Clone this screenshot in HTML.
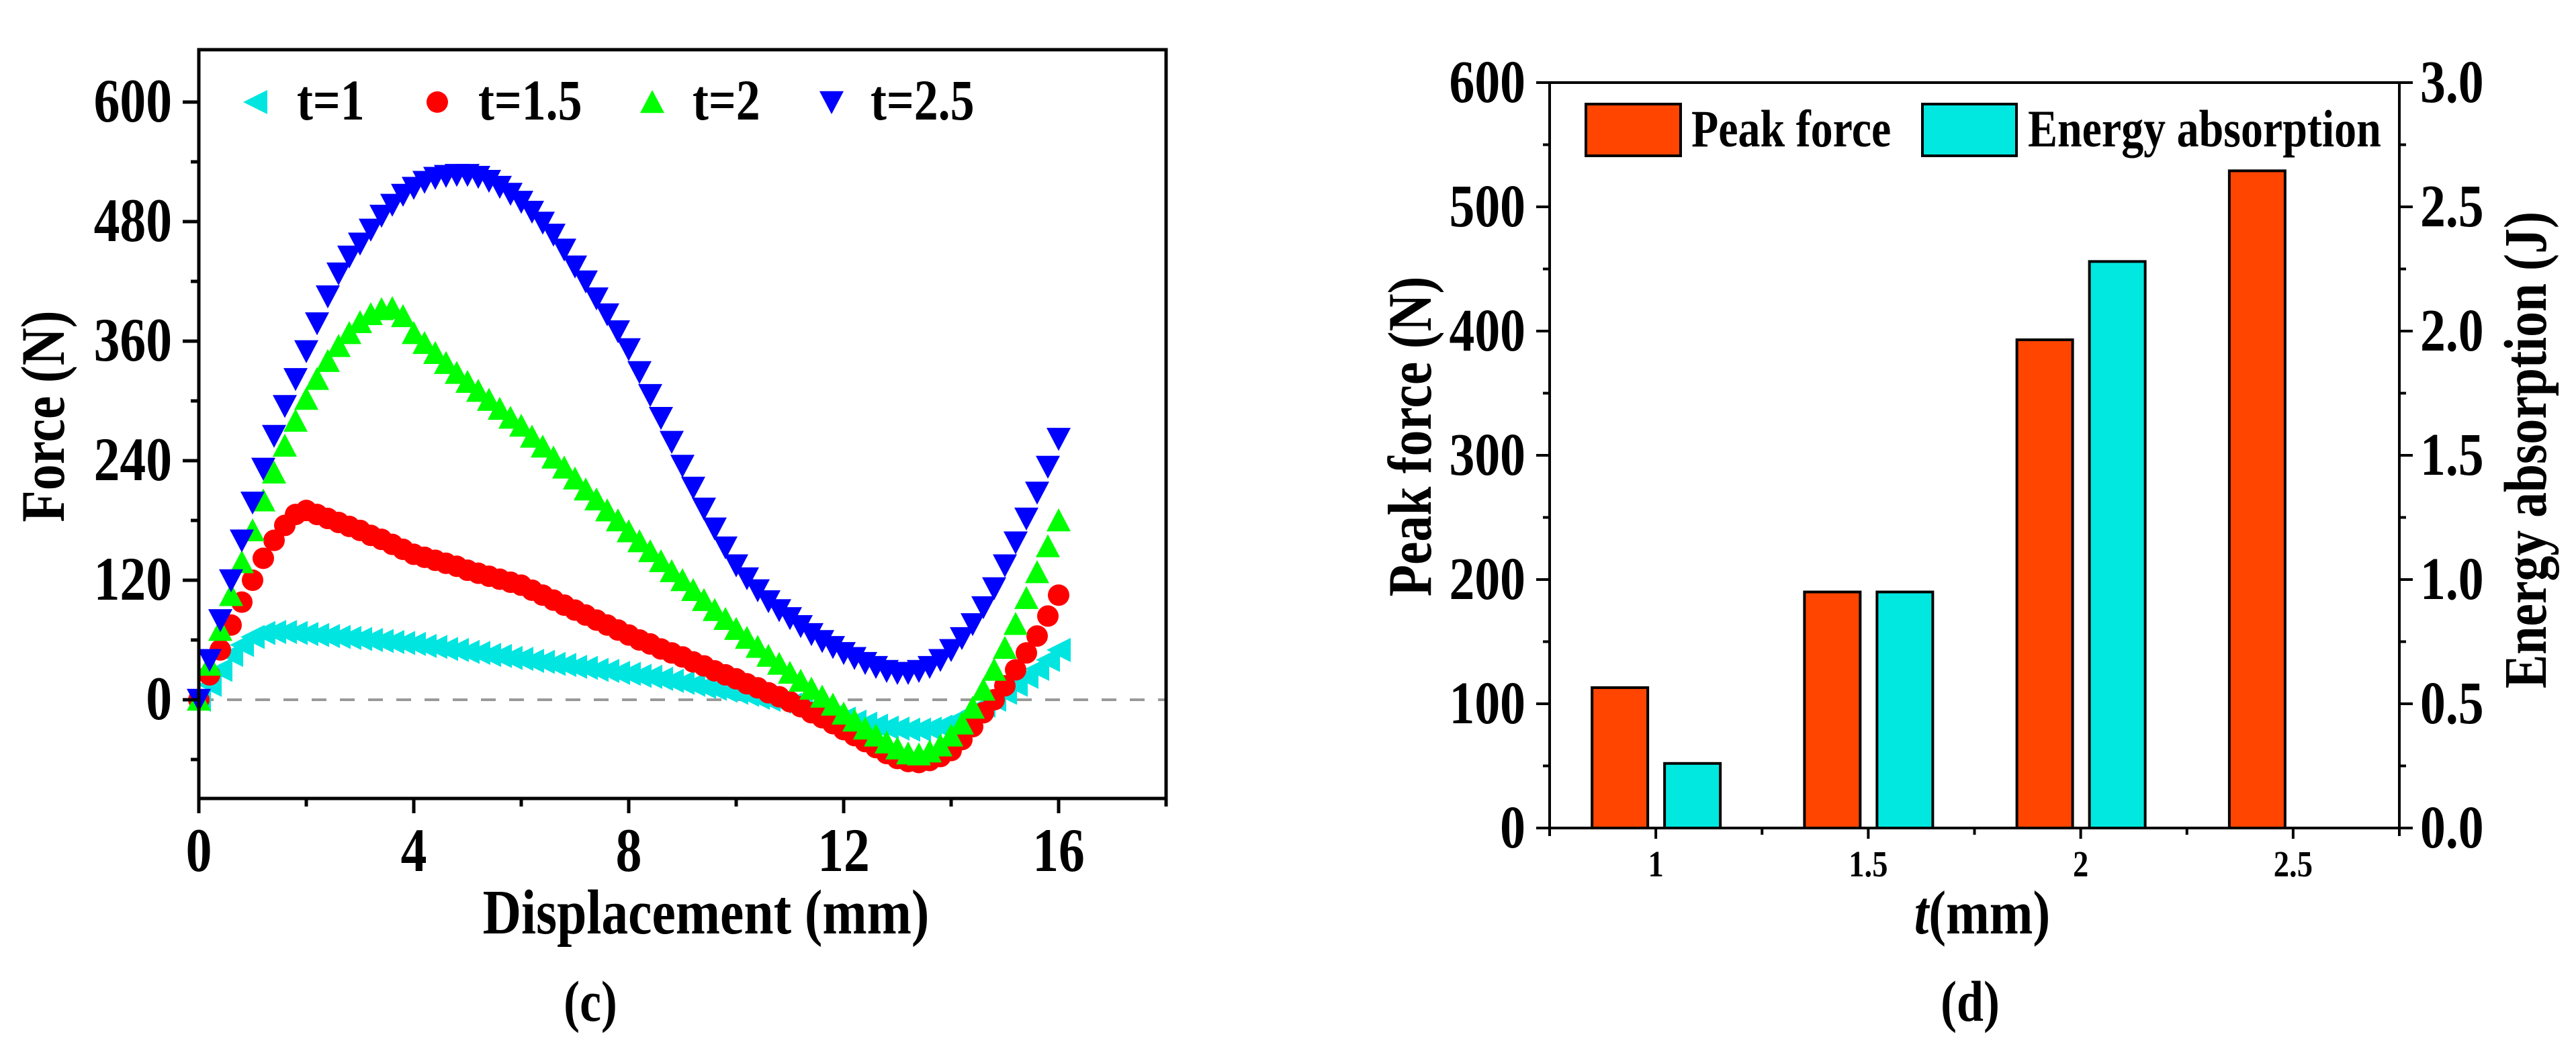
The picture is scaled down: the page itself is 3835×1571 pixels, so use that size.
<!DOCTYPE html>
<html><head><meta charset="utf-8"><style>
html,body{margin:0;padding:0;background:#fff}
svg{display:block}
text{font-family:"Liberation Serif",serif;font-weight:bold;fill:#000}
</style></head><body>
<svg id="fig" width="3835" height="1571" viewBox="0 0 3835 1571" xmlns="http://www.w3.org/2000/svg">
<g id="left"></g>
<g id="right"></g>
</svg>
<script>
// ---------- Chart (c) data ----------
const dispStep = 0.2;
const yTicksC = [0,120,240,360,480,600];
const xTicksC = [0,4,8,12,16];
const seriesNames = ["t=1","t=1.5","t=2","t=2.5"];
const forceT1 = [0,15,30,45,55,63,67,68,68,67,66,65,64,63,62,61,60,59,58,57,56,54,53,51,50,48,47,45,44,42,41,39,38,36,35,33,32,30,29,27,26,24,23,21,19,17,15,13,11,9,7,5,2,0,-2,-5,-7,-10,-13,-16,-19,-22,-24,-26,-28,-29,-30,-30,-29,-27,-23,-18,-12,-6,0,7,15,23,31,40,50];
const forceT15 = [0,25,50,75,98,120,142,160,175,186,190,186,182,178,174,170,165,161,156,151,146,143,140,137,134,130,127,124,121,118,115,110,105,100,95,90,85,80,75,70,65,60,56,51,47,43,38,34,29,25,21,16,12,7,3,-2,-7,-13,-18,-24,-30,-36,-42,-48,-54,-59,-62,-63,-61,-57,-51,-40,-27,-13,0,14,30,47,64,84,105];
const forceT2 = [0,35,70,105,138,170,200,228,255,280,302,322,340,355,368,379,387,392,393,385,368,358,348,338,328,319,310,301,292,283,275,264,254,243,233,222,211,201,190,180,169,159,149,139,129,120,110,100,90,81,71,62,53,44,36,27,19,11,3,-5,-14,-21,-29,-36,-43,-49,-54,-55,-52,-46,-36,-24,-8,10,30,52,76,102,128,154,180];
const forceT25 = [0,40,80,120,160,198,232,265,295,322,350,378,405,428,445,458,472,486,497,507,514,520,524,526,527,527,525,521,515,508,500,490,479,467,452,435,420,403,387,370,352,329,306,283,259,235,213,192,172,153,135,122,110,99,90,82,74,66,59,53,47,42,37,33,29,27,27,29,33,40,50,62,76,93,112,135,158,182,208,234,262];

// ---------- Chart (d) data ----------
const categories = ["1","1.5","2","2.5"];
const peakForce = [113,190,393,529];
const energyAbs = [0.26,0.95,2.28,0];
const yTicksL = [0,100,200,300,400,500,600];
const yTicksR = ["0.0","0.5","1.0","1.5","2.0","2.5","3.0"];

const NS="http://www.w3.org/2000/svg";
const SX=0.84;
function mk(parent,tag,attrs,txt){const e=document.createElementNS(NS,tag);for(const k in attrs)e.setAttribute(k,attrs[k]);if(txt!==undefined)e.textContent=txt;parent.appendChild(e);return e;}
function txt(parent,x,y,anchor,size,str,rot){
  const tr=`translate(${x},${y})`+(rot?' rotate(-90)':'')+` scale(${SX},1)`;
  return mk(parent,'text',{x:0,y:0,'text-anchor':anchor,'font-size':size/SX*0.97,transform:tr},str);
}

// ===== Left chart =====
const L=document.getElementById('left');
const cx0=296,cx1=1736,cy0=1189,cy1=74;
const xC=v=>cx0+(v-0)/(18-0)*(cx1-cx0);
const yC=v=>1042-(v/600)*(1042-152);
let zl=mk(L,'line',{x1:cx0,x2:cx1,y1:yC(0),y2:yC(0),stroke:'#999','stroke-width':4,'stroke-dasharray':'22,20'});


const colors=['#00e5e0','#ff0000','#00ff00','#0000ff'];
const allS=[forceT1,forceT15,forceT2,forceT25];
function marker(g,type,x,y,col){
  const s=18;
  if(type===0) return mk(g,'polygon',{points:`${x-s},${y} ${x+s},${y-s} ${x+s},${y+s}`,fill:col});
  if(type===1) return mk(g,'circle',{cx:x,cy:y,r:16,fill:col});
  if(type===2) return mk(g,'polygon',{points:`${x},${y-s} ${x+s},${y+s*0.9} ${x-s},${y+s*0.9}`,fill:col});
  return mk(g,'polygon',{points:`${x},${y+s} ${x+s},${y-s*0.9} ${x-s},${y-s*0.9}`,fill:col});
}
allS.forEach((arr,si)=>{
  const g=mk(L,'g',{});
  
  
  arr.forEach((v,i)=>{
    const m=marker(g,si,xC(i*dispStep),yC(v),colors[si]);
    
    
  });
});
let bx=mk(L,'rect',{x:cx0,y:cy1,width:cx1-cx0,height:cy0-cy1,fill:'none',stroke:'#000','stroke-width':5});


for(let v=-60;v<=600;v+=60){
  const major=(v%120===0);
  mk(L,'line',{x1:cx0-(major?24:12),x2:cx0,y1:yC(v),y2:yC(v),stroke:'#000','stroke-width':5});
}
yTicksC.forEach(v=>{
  const t=txt(L,256,yC(v)+29,'end',80,String(v));
  
  
});
for(let v=0;v<=18;v+=2){
  const major=(v%4===0);
  mk(L,'line',{x1:xC(v),x2:xC(v),y1:cy0,y2:cy0+(major?22:12),stroke:'#000','stroke-width':5});
}
xTicksC.forEach(v=>{
  const t=txt(L,xC(v),1297,'middle',80,String(v));
  
  
});
let xt=txt(L,1051,1390,'middle',82,'Displacement (mm)');


let yt=txt(L,95,620,'middle',80,'Force (N)',true);


let cap=txt(L,879,1520,'middle',74,'(c)');


const legX=[380,651,971,1238], legTX=[442,712,1031,1296];
seriesNames.forEach((n,i)=>{
  const g=mk(L,'g',{});
  
  
  marker(g,i,legX[i],152,colors[i]);
  txt(g,legTX[i],178,'start',74,n);
});

// ===== Right chart =====
const R=document.getElementById('right');
const rx0=2307,rx1=3572,ry0=1233,ry1=123;
const xR=i=>rx0+(i+0.5)/4*(rx1-rx0);
const yRL=v=>ry0-v/600*(ry0-ry1);
const yRR=v=>ry0-v/3*(ry0-ry1);
categories.forEach((c,i)=>{
  const b=mk(R,'rect',{x:xR(i)-95,y:yRL(peakForce[i]),width:83,height:ry0-yRL(peakForce[i]),fill:'#ff4500',stroke:'#000','stroke-width':4});
  
  
  if(energyAbs[i]>0){
    const e=mk(R,'rect',{x:xR(i)+13,y:yRR(energyAbs[i]),width:83,height:ry0-yRR(energyAbs[i]),fill:'#00e8e0',stroke:'#000','stroke-width':4});
    
    
  }
  const t=txt(R,xR(i),1305,'middle',48,c);
  
  
});
mk(R,'line',{x1:rx0,x2:rx1,y1:ry1,y2:ry1,stroke:'#000','stroke-width':4});
mk(R,'line',{x1:rx0,x2:rx1,y1:ry0,y2:ry0,stroke:'#000','stroke-width':4});
mk(R,'line',{x1:rx0,x2:rx0,y1:ry1,y2:ry0+12,stroke:'#000','stroke-width':4});
mk(R,'line',{x1:rx1,x2:rx1,y1:ry1,y2:ry0+12,stroke:'#000','stroke-width':4});
for(let v=0;v<=600;v+=50){
  const major=v%100===0;
  mk(R,'line',{x1:rx0-(major?20:10),x2:rx0,y1:yRL(v),y2:yRL(v),stroke:'#000','stroke-width':4});
  mk(R,'line',{x1:rx1,x2:rx1+(major?20:10),y1:yRL(v),y2:yRL(v),stroke:'#000','stroke-width':4});
}
for(let k=0;k<7;k++){
  const x=rx0+(k+1)/8*(rx1-rx0);
  mk(R,'line',{x1:x,x2:x,y1:ry0,y2:ry0+(k%2===0?16:10),stroke:'#000','stroke-width':4});
}
yTicksL.forEach(v=>{
  const t=txt(R,2271,yRL(v)+29,'end',78,String(v));
  
  
});
yTicksR.forEach((s,i)=>{
  const t=txt(R,3603,yRR(i*0.5)+29,'start',78,s);
  
  
});
let rx=txt(R,2951,1390,'middle',80,'');


mk(rx,'tspan',{'font-style':'italic'},'t');mk(rx,'tspan',{},'(mm)');
let ryl=txt(R,2130,650,'middle',80,'Peak force (N)',true);


let ryr=txt(R,3790,670,'middle',78,'Energy absorption (J)',true);


let capd=txt(R,2933,1520,'middle',74,'(d)');


const lg1=mk(R,'g',{});


mk(lg1,'rect',{x:2361,y:155,width:141,height:77,fill:'#ff4500',stroke:'#000','stroke-width':4});
txt(lg1,2518,218,'start',68,'Peak force');
const lg2=mk(R,'g',{});


mk(lg2,'rect',{x:2862,y:155,width:140,height:77,fill:'#00e8e0',stroke:'#000','stroke-width':4});
txt(lg2,3019,218,'start',68,'Energy absorption');
</script>
</body></html>
